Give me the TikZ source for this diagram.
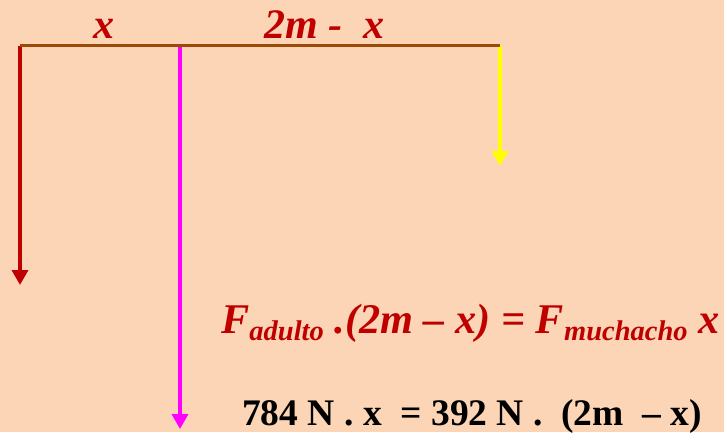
\documentclass[tikz,border=0pt]{standalone}
\usepackage{fontspec}
\setmainfont{Liberation Serif}
\usetikzlibrary{arrows.meta}
\definecolor{bg}{HTML}{FBD5B5}
\definecolor{beamc}{HTML}{9C4A08}
\definecolor{redc}{HTML}{C00000}
\definecolor{magc}{HTML}{FF00FF}
\definecolor{yelc}{HTML}{FFFF00}
\newcommand{\subtxt}[1]{\raisebox{-7pt}{\fontsize{28.5}{28.5}\selectfont #1}}
\begin{document}
\begin{tikzpicture}[x=1pt,y=-1pt,
  force/.style={line width=3.5pt,-{Triangle[width=16pt,length=15pt]}},
  beam/.style={line width=3.5pt,draw=beamc},
  lbl/.style={font=\fontsize{42}{42}\selectfont\bfseries\itshape,text=redc,inner sep=0pt,anchor=base},
  eqr/.style={font=\fontsize{42.3}{42.3}\selectfont\bfseries\itshape,text=redc,inner sep=0pt,anchor=base west},
  eqb/.style={font=\fontsize{37.5}{37.5}\selectfont\bfseries,text=black,inner sep=0pt,anchor=base west}]
\fill[bg] (0,0) rectangle (724,432);
\useasboundingbox (0,0) rectangle (724,432);
\coordinate (bL) at (20,45.5);
\coordinate (bM) at (180,45.5);
\coordinate (bR) at (500,45.5);
\coordinate (tL) at (20,285);
\coordinate (tM) at (180,429);
\coordinate (tR) at (500,166);
\draw[force,redc] (bL) -- (tL);
\draw[force,magc] (bM) -- (tM);
\draw[force,yelc] (bR) -- (tR);
\draw[beam] (bL) -- (bR);
\node[lbl] (lx) at (104,38) {x};
\node[lbl,anchor=base west] (l2m) at (264,38) {2m -\ \ x};
\node[eqr] (eq1) at (221,333) {F\subtxt{adulto} .(2m – x) = F\subtxt{muchacho} x};
\node[eqb] (eq2) at (242,425) {784 N . x \ = 392 N . \ (2m \ – x)};
\end{tikzpicture}
\end{document}
